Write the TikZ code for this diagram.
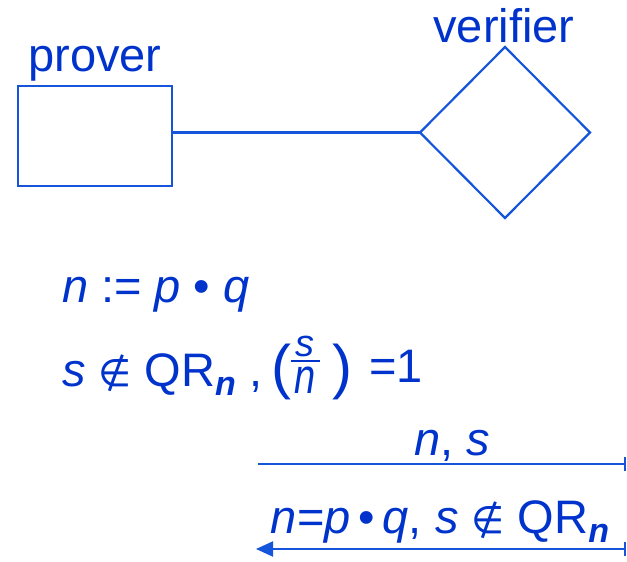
\documentclass[tikz,border=0pt]{standalone}
\usepackage{fontspec}
\usepackage{graphicx}
\setmainfont{Liberation Sans}
\newfontfamily\symfont{DejaVu Sans}
\usetikzlibrary{shapes.geometric,arrows.meta}
\definecolor{txtblue}{RGB}{0,51,204}
\definecolor{lnblue}{RGB}{20,85,220}
\newcommand\mi[1]{\textit{#1}}
\newcommand\subn{\raisebox{-9pt}{\fontsize{34}{34}\selectfont\bfseries\itshape n}}
\newcommand\notinsym{{\symfont\fontsize{38}{38}\selectfont ∉}}
\newcommand\legfrac{\vbox{\offinterlineskip\fontsize{38}{38}\selectfont\itshape
  \halign{\hfil##\hfil\cr s\cr\noalign{\kern3pt}\vrule width 29pt height 2.2pt\cr\noalign{\kern4pt}\scalebox{1}[1.3]{n}\cr}}}
\begin{document}
\begin{tikzpicture}[x=1pt,y=-1pt,
  every node/.style={text=txtblue, inner sep=0pt, outer sep=0pt},
  lbl/.style={font=\fontsize{47}{56}\selectfont, anchor=base west},
  parlbl/.style={font=\fontsize{60}{60}\selectfont, anchor=base west},
  shapeline/.style={draw=lnblue, line width=2.2pt},
  msg/.style={draw=lnblue, line width=2pt}]
\useasboundingbox (0,0) rectangle (627,562);
% participants
\node[shapeline, rectangle, minimum width=154pt, minimum height=100pt] (prover) at (95,136) {};
\node[shapeline, diamond, minimum width=170pt, minimum height=171pt] (verifier) at (505,132.5) {};
\draw[shapeline] (prover.east |- verifier.west) -- (verifier.west);
\node[lbl, anchor=base] (proverlbl) at (95,71) {prover};
\node[lbl, anchor=base] (verifierlbl) at (504,42) {verifier};
% prover computations
\node[lbl] (eq1) at (62,302) {\mi{n} := \mi{p} • \mi{q}};
\node[lbl] (eq2) at (62,386) {\mi{s} \notinsym\ QR\subn\ ,};
\node[parlbl] (lpar) at (271,387) {(};
\node[anchor=base] (legendre) at (305,393) {\legfrac};
\node[parlbl] (rpar) at (332,387) {)};
\node[lbl] (eqone) at (369,382) {=1};
% messages
\coordinate (a1s) at (258,464);
\coordinate (a1e) at (626,464);
\draw[msg, -{Bar[width=14pt,line width=2pt]}] (a1s) -- (a1e);
\node[lbl, anchor=base] (m1) at (452,455) {\mi{n}, \mi{s}};
\coordinate (a2s) at (626,549);
\coordinate (a2e) at (256,549);
\draw[msg, {Bar[width=14pt,line width=2pt]}-{Triangle[length=17pt,width=15pt]}] (a2s) -- (a2e);
\node[lbl, anchor=base] (m2) at (440,533) {\mi{n}=\mi{p}\,•\,\mi{q}, \mi{s} \notinsym\ QR\subn};
\end{tikzpicture}
\end{document}
